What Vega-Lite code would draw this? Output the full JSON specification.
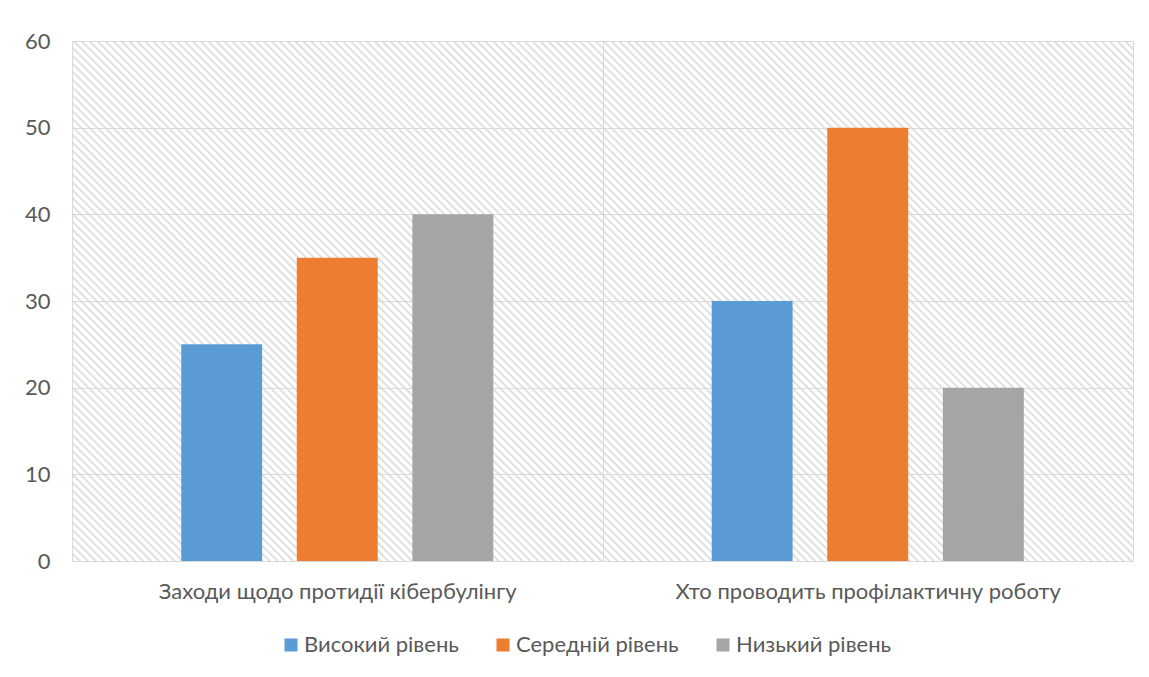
{
  "$schema": "https://vega.github.io/schema/vega-lite/v6.json",
  "width": 1061,
  "height": 520,
  "autosize": "none",
  "padding": {"left": 72, "top": 41, "right": 16, "bottom": 116},
  "background": "white",
  "data": {
    "values": [
      {"category": "Заходи щодо протидії кібербулінгу", "level": "Високий рівень", "value": 25},
      {"category": "Заходи щодо протидії кібербулінгу", "level": "Середній рівень", "value": 35},
      {"category": "Заходи щодо протидії кібербулінгу", "level": "Низький рівень", "value": 40},
      {"category": "Хто проводить профілактичну роботу", "level": "Високий рівень", "value": 30},
      {"category": "Хто проводить профілактичну роботу", "level": "Середній рівень", "value": 50},
      {"category": "Хто проводить профілактичну роботу", "level": "Низький рівень", "value": 20}
    ]
  },
  "mark": {"type": "bar"},
  "encoding": {
    "x": {
      "field": "category",
      "type": "nominal",
      "sort": null,
      "scale": {"paddingInner": 0, "paddingOuter": 0},
      "axis": {
        "title": null,
        "labelAngle": 0,
        "labelLimit": 0,
        "labelFontSize": 22,
        "ticks": false,
        "domain": true,
        "domainColor": "#d9d9d9",
        "grid": true,
        "tickBand": "extent",
        "gridColor": "#d9d9d9",
        "labelPadding": 20
      }
    },
    "xOffset": {
      "field": "level",
      "type": "nominal",
      "sort": ["Високий рівень", "Середній рівень", "Низький рівень"],
      "scale": {"paddingInner": 0.3, "paddingOuter": 0.945}
    },
    "y": {
      "field": "value",
      "type": "quantitative",
      "scale": {"domain": [0, 60], "nice": false},
      "axis": {
        "title": null,
        "values": [0, 10, 20, 30, 40, 50, 60],
        "ticks": false,
        "domain": false,
        "grid": true,
        "gridColor": "#d9d9d9",
        "labelFontSize": 22,
        "labelPadding": 22
      }
    },
    "color": {
      "field": "level",
      "type": "nominal",
      "sort": ["Високий рівень", "Середній рівень", "Низький рівень"],
      "scale": {"range": ["#5B9BD5", "#ED7D31", "#A5A5A5"]},
      "legend": {
        "title": null,
        "orient": "none",
        "direction": "horizontal",
        "legendX": 208,
        "legendY": 593,
        "symbolType": "square",
        "symbolSize": 169,
        "symbolStrokeWidth": 0,
        "symbolOpacity": 1,
        "labelFontSize": 22,
        "labelLimit": 400,
        "labelColor": "#595959",
        "labelFont": "Lato",
        "labelOffset": 2,
        "columnPadding": 33
      }
    }
  },
  "config": {
    "view": {
      "stroke": "#d9d9d9",
      "fill": {
        "gradient": "linear",
        "x1": 0, "y1": 1, "x2": 1.2015, "y2": 0.4111,
        "stops": [
{"offset":0.00,"color":"#d9d9d9"},{"offset":0.0015,"color":"#fff"},{"offset":0.0035,"color":"#fff"},{"offset":0.005,"color":"#d9d9d9"},{"offset":0.0065,"color":"#fff"},{"offset":0.0085,"color":"#fff"},
{"offset":0.01,"color":"#d9d9d9"},{"offset":0.0115,"color":"#fff"},{"offset":0.0135,"color":"#fff"},{"offset":0.015,"color":"#d9d9d9"},{"offset":0.0165,"color":"#fff"},{"offset":0.0185,"color":"#fff"},
{"offset":0.02,"color":"#d9d9d9"},{"offset":0.0215,"color":"#fff"},{"offset":0.0235,"color":"#fff"},{"offset":0.025,"color":"#d9d9d9"},{"offset":0.0265,"color":"#fff"},{"offset":0.0285,"color":"#fff"},
{"offset":0.03,"color":"#d9d9d9"},{"offset":0.0315,"color":"#fff"},{"offset":0.0335,"color":"#fff"},{"offset":0.035,"color":"#d9d9d9"},{"offset":0.0365,"color":"#fff"},{"offset":0.0385,"color":"#fff"},
{"offset":0.04,"color":"#d9d9d9"},{"offset":0.0415,"color":"#fff"},{"offset":0.0435,"color":"#fff"},{"offset":0.045,"color":"#d9d9d9"},{"offset":0.0465,"color":"#fff"},{"offset":0.0485,"color":"#fff"},
{"offset":0.05,"color":"#d9d9d9"},{"offset":0.0515,"color":"#fff"},{"offset":0.0535,"color":"#fff"},{"offset":0.055,"color":"#d9d9d9"},{"offset":0.0565,"color":"#fff"},{"offset":0.0585,"color":"#fff"},
{"offset":0.06,"color":"#d9d9d9"},{"offset":0.0615,"color":"#fff"},{"offset":0.0635,"color":"#fff"},{"offset":0.065,"color":"#d9d9d9"},{"offset":0.0665,"color":"#fff"},{"offset":0.0685,"color":"#fff"},
{"offset":0.07,"color":"#d9d9d9"},{"offset":0.0715,"color":"#fff"},{"offset":0.0735,"color":"#fff"},{"offset":0.075,"color":"#d9d9d9"},{"offset":0.0765,"color":"#fff"},{"offset":0.0785,"color":"#fff"},
{"offset":0.08,"color":"#d9d9d9"},{"offset":0.0815,"color":"#fff"},{"offset":0.0835,"color":"#fff"},{"offset":0.085,"color":"#d9d9d9"},{"offset":0.0865,"color":"#fff"},{"offset":0.0885,"color":"#fff"},
{"offset":0.09,"color":"#d9d9d9"},{"offset":0.0915,"color":"#fff"},{"offset":0.0935,"color":"#fff"},{"offset":0.095,"color":"#d9d9d9"},{"offset":0.0965,"color":"#fff"},{"offset":0.0985,"color":"#fff"},
{"offset":0.10,"color":"#d9d9d9"},{"offset":0.1015,"color":"#fff"},{"offset":0.1035,"color":"#fff"},{"offset":0.105,"color":"#d9d9d9"},{"offset":0.1065,"color":"#fff"},{"offset":0.1085,"color":"#fff"},
{"offset":0.11,"color":"#d9d9d9"},{"offset":0.1115,"color":"#fff"},{"offset":0.1135,"color":"#fff"},{"offset":0.115,"color":"#d9d9d9"},{"offset":0.1165,"color":"#fff"},{"offset":0.1185,"color":"#fff"},
{"offset":0.12,"color":"#d9d9d9"},{"offset":0.1215,"color":"#fff"},{"offset":0.1235,"color":"#fff"},{"offset":0.125,"color":"#d9d9d9"},{"offset":0.1265,"color":"#fff"},{"offset":0.1285,"color":"#fff"},
{"offset":0.13,"color":"#d9d9d9"},{"offset":0.1315,"color":"#fff"},{"offset":0.1335,"color":"#fff"},{"offset":0.135,"color":"#d9d9d9"},{"offset":0.1365,"color":"#fff"},{"offset":0.1385,"color":"#fff"},
{"offset":0.14,"color":"#d9d9d9"},{"offset":0.1415,"color":"#fff"},{"offset":0.1435,"color":"#fff"},{"offset":0.145,"color":"#d9d9d9"},{"offset":0.1465,"color":"#fff"},{"offset":0.1485,"color":"#fff"},
{"offset":0.15,"color":"#d9d9d9"},{"offset":0.1515,"color":"#fff"},{"offset":0.1535,"color":"#fff"},{"offset":0.155,"color":"#d9d9d9"},{"offset":0.1565,"color":"#fff"},{"offset":0.1585,"color":"#fff"},
{"offset":0.16,"color":"#d9d9d9"},{"offset":0.1615,"color":"#fff"},{"offset":0.1635,"color":"#fff"},{"offset":0.165,"color":"#d9d9d9"},{"offset":0.1665,"color":"#fff"},{"offset":0.1685,"color":"#fff"},
{"offset":0.17,"color":"#d9d9d9"},{"offset":0.1715,"color":"#fff"},{"offset":0.1735,"color":"#fff"},{"offset":0.175,"color":"#d9d9d9"},{"offset":0.1765,"color":"#fff"},{"offset":0.1785,"color":"#fff"},
{"offset":0.18,"color":"#d9d9d9"},{"offset":0.1815,"color":"#fff"},{"offset":0.1835,"color":"#fff"},{"offset":0.185,"color":"#d9d9d9"},{"offset":0.1865,"color":"#fff"},{"offset":0.1885,"color":"#fff"},
{"offset":0.19,"color":"#d9d9d9"},{"offset":0.1915,"color":"#fff"},{"offset":0.1935,"color":"#fff"},{"offset":0.195,"color":"#d9d9d9"},{"offset":0.1965,"color":"#fff"},{"offset":0.1985,"color":"#fff"},
{"offset":0.20,"color":"#d9d9d9"},{"offset":0.2015,"color":"#fff"},{"offset":0.2035,"color":"#fff"},{"offset":0.205,"color":"#d9d9d9"},{"offset":0.2065,"color":"#fff"},{"offset":0.2085,"color":"#fff"},
{"offset":0.21,"color":"#d9d9d9"},{"offset":0.2115,"color":"#fff"},{"offset":0.2135,"color":"#fff"},{"offset":0.215,"color":"#d9d9d9"},{"offset":0.2165,"color":"#fff"},{"offset":0.2185,"color":"#fff"},
{"offset":0.22,"color":"#d9d9d9"},{"offset":0.2215,"color":"#fff"},{"offset":0.2235,"color":"#fff"},{"offset":0.225,"color":"#d9d9d9"},{"offset":0.2265,"color":"#fff"},{"offset":0.2285,"color":"#fff"},
{"offset":0.23,"color":"#d9d9d9"},{"offset":0.2315,"color":"#fff"},{"offset":0.2335,"color":"#fff"},{"offset":0.235,"color":"#d9d9d9"},{"offset":0.2365,"color":"#fff"},{"offset":0.2385,"color":"#fff"},
{"offset":0.24,"color":"#d9d9d9"},{"offset":0.2415,"color":"#fff"},{"offset":0.2435,"color":"#fff"},{"offset":0.245,"color":"#d9d9d9"},{"offset":0.2465,"color":"#fff"},{"offset":0.2485,"color":"#fff"},
{"offset":0.25,"color":"#d9d9d9"},{"offset":0.2515,"color":"#fff"},{"offset":0.2535,"color":"#fff"},{"offset":0.255,"color":"#d9d9d9"},{"offset":0.2565,"color":"#fff"},{"offset":0.2585,"color":"#fff"},
{"offset":0.26,"color":"#d9d9d9"},{"offset":0.2615,"color":"#fff"},{"offset":0.2635,"color":"#fff"},{"offset":0.265,"color":"#d9d9d9"},{"offset":0.2665,"color":"#fff"},{"offset":0.2685,"color":"#fff"},
{"offset":0.27,"color":"#d9d9d9"},{"offset":0.2715,"color":"#fff"},{"offset":0.2735,"color":"#fff"},{"offset":0.275,"color":"#d9d9d9"},{"offset":0.2765,"color":"#fff"},{"offset":0.2785,"color":"#fff"},
{"offset":0.28,"color":"#d9d9d9"},{"offset":0.2815,"color":"#fff"},{"offset":0.2835,"color":"#fff"},{"offset":0.285,"color":"#d9d9d9"},{"offset":0.2865,"color":"#fff"},{"offset":0.2885,"color":"#fff"},
{"offset":0.29,"color":"#d9d9d9"},{"offset":0.2915,"color":"#fff"},{"offset":0.2935,"color":"#fff"},{"offset":0.295,"color":"#d9d9d9"},{"offset":0.2965,"color":"#fff"},{"offset":0.2985,"color":"#fff"},
{"offset":0.30,"color":"#d9d9d9"},{"offset":0.3015,"color":"#fff"},{"offset":0.3035,"color":"#fff"},{"offset":0.305,"color":"#d9d9d9"},{"offset":0.3065,"color":"#fff"},{"offset":0.3085,"color":"#fff"},
{"offset":0.31,"color":"#d9d9d9"},{"offset":0.3115,"color":"#fff"},{"offset":0.3135,"color":"#fff"},{"offset":0.315,"color":"#d9d9d9"},{"offset":0.3165,"color":"#fff"},{"offset":0.3185,"color":"#fff"},
{"offset":0.32,"color":"#d9d9d9"},{"offset":0.3215,"color":"#fff"},{"offset":0.3235,"color":"#fff"},{"offset":0.325,"color":"#d9d9d9"},{"offset":0.3265,"color":"#fff"},{"offset":0.3285,"color":"#fff"},
{"offset":0.33,"color":"#d9d9d9"},{"offset":0.3315,"color":"#fff"},{"offset":0.3335,"color":"#fff"},{"offset":0.335,"color":"#d9d9d9"},{"offset":0.3365,"color":"#fff"},{"offset":0.3385,"color":"#fff"},
{"offset":0.34,"color":"#d9d9d9"},{"offset":0.3415,"color":"#fff"},{"offset":0.3435,"color":"#fff"},{"offset":0.345,"color":"#d9d9d9"},{"offset":0.3465,"color":"#fff"},{"offset":0.3485,"color":"#fff"},
{"offset":0.35,"color":"#d9d9d9"},{"offset":0.3515,"color":"#fff"},{"offset":0.3535,"color":"#fff"},{"offset":0.355,"color":"#d9d9d9"},{"offset":0.3565,"color":"#fff"},{"offset":0.3585,"color":"#fff"},
{"offset":0.36,"color":"#d9d9d9"},{"offset":0.3615,"color":"#fff"},{"offset":0.3635,"color":"#fff"},{"offset":0.365,"color":"#d9d9d9"},{"offset":0.3665,"color":"#fff"},{"offset":0.3685,"color":"#fff"},
{"offset":0.37,"color":"#d9d9d9"},{"offset":0.3715,"color":"#fff"},{"offset":0.3735,"color":"#fff"},{"offset":0.375,"color":"#d9d9d9"},{"offset":0.3765,"color":"#fff"},{"offset":0.3785,"color":"#fff"},
{"offset":0.38,"color":"#d9d9d9"},{"offset":0.3815,"color":"#fff"},{"offset":0.3835,"color":"#fff"},{"offset":0.385,"color":"#d9d9d9"},{"offset":0.3865,"color":"#fff"},{"offset":0.3885,"color":"#fff"},
{"offset":0.39,"color":"#d9d9d9"},{"offset":0.3915,"color":"#fff"},{"offset":0.3935,"color":"#fff"},{"offset":0.395,"color":"#d9d9d9"},{"offset":0.3965,"color":"#fff"},{"offset":0.3985,"color":"#fff"},
{"offset":0.40,"color":"#d9d9d9"},{"offset":0.4015,"color":"#fff"},{"offset":0.4035,"color":"#fff"},{"offset":0.405,"color":"#d9d9d9"},{"offset":0.4065,"color":"#fff"},{"offset":0.4085,"color":"#fff"},
{"offset":0.41,"color":"#d9d9d9"},{"offset":0.4115,"color":"#fff"},{"offset":0.4135,"color":"#fff"},{"offset":0.415,"color":"#d9d9d9"},{"offset":0.4165,"color":"#fff"},{"offset":0.4185,"color":"#fff"},
{"offset":0.42,"color":"#d9d9d9"},{"offset":0.4215,"color":"#fff"},{"offset":0.4235,"color":"#fff"},{"offset":0.425,"color":"#d9d9d9"},{"offset":0.4265,"color":"#fff"},{"offset":0.4285,"color":"#fff"},
{"offset":0.43,"color":"#d9d9d9"},{"offset":0.4315,"color":"#fff"},{"offset":0.4335,"color":"#fff"},{"offset":0.435,"color":"#d9d9d9"},{"offset":0.4365,"color":"#fff"},{"offset":0.4385,"color":"#fff"},
{"offset":0.44,"color":"#d9d9d9"},{"offset":0.4415,"color":"#fff"},{"offset":0.4435,"color":"#fff"},{"offset":0.445,"color":"#d9d9d9"},{"offset":0.4465,"color":"#fff"},{"offset":0.4485,"color":"#fff"},
{"offset":0.45,"color":"#d9d9d9"},{"offset":0.4515,"color":"#fff"},{"offset":0.4535,"color":"#fff"},{"offset":0.455,"color":"#d9d9d9"},{"offset":0.4565,"color":"#fff"},{"offset":0.4585,"color":"#fff"},
{"offset":0.46,"color":"#d9d9d9"},{"offset":0.4615,"color":"#fff"},{"offset":0.4635,"color":"#fff"},{"offset":0.465,"color":"#d9d9d9"},{"offset":0.4665,"color":"#fff"},{"offset":0.4685,"color":"#fff"},
{"offset":0.47,"color":"#d9d9d9"},{"offset":0.4715,"color":"#fff"},{"offset":0.4735,"color":"#fff"},{"offset":0.475,"color":"#d9d9d9"},{"offset":0.4765,"color":"#fff"},{"offset":0.4785,"color":"#fff"},
{"offset":0.48,"color":"#d9d9d9"},{"offset":0.4815,"color":"#fff"},{"offset":0.4835,"color":"#fff"},{"offset":0.485,"color":"#d9d9d9"},{"offset":0.4865,"color":"#fff"},{"offset":0.4885,"color":"#fff"},
{"offset":0.49,"color":"#d9d9d9"},{"offset":0.4915,"color":"#fff"},{"offset":0.4935,"color":"#fff"},{"offset":0.495,"color":"#d9d9d9"},{"offset":0.4965,"color":"#fff"},{"offset":0.4985,"color":"#fff"},
{"offset":0.50,"color":"#d9d9d9"},{"offset":0.5015,"color":"#fff"},{"offset":0.5035,"color":"#fff"},{"offset":0.505,"color":"#d9d9d9"},{"offset":0.5065,"color":"#fff"},{"offset":0.5085,"color":"#fff"},
{"offset":0.51,"color":"#d9d9d9"},{"offset":0.5115,"color":"#fff"},{"offset":0.5135,"color":"#fff"},{"offset":0.515,"color":"#d9d9d9"},{"offset":0.5165,"color":"#fff"},{"offset":0.5185,"color":"#fff"},
{"offset":0.52,"color":"#d9d9d9"},{"offset":0.5215,"color":"#fff"},{"offset":0.5235,"color":"#fff"},{"offset":0.525,"color":"#d9d9d9"},{"offset":0.5265,"color":"#fff"},{"offset":0.5285,"color":"#fff"},
{"offset":0.53,"color":"#d9d9d9"},{"offset":0.5315,"color":"#fff"},{"offset":0.5335,"color":"#fff"},{"offset":0.535,"color":"#d9d9d9"},{"offset":0.5365,"color":"#fff"},{"offset":0.5385,"color":"#fff"},
{"offset":0.54,"color":"#d9d9d9"},{"offset":0.5415,"color":"#fff"},{"offset":0.5435,"color":"#fff"},{"offset":0.545,"color":"#d9d9d9"},{"offset":0.5465,"color":"#fff"},{"offset":0.5485,"color":"#fff"},
{"offset":0.55,"color":"#d9d9d9"},{"offset":0.5515,"color":"#fff"},{"offset":0.5535,"color":"#fff"},{"offset":0.555,"color":"#d9d9d9"},{"offset":0.5565,"color":"#fff"},{"offset":0.5585,"color":"#fff"},
{"offset":0.56,"color":"#d9d9d9"},{"offset":0.5615,"color":"#fff"},{"offset":0.5635,"color":"#fff"},{"offset":0.565,"color":"#d9d9d9"},{"offset":0.5665,"color":"#fff"},{"offset":0.5685,"color":"#fff"},
{"offset":0.57,"color":"#d9d9d9"},{"offset":0.5715,"color":"#fff"},{"offset":0.5735,"color":"#fff"},{"offset":0.575,"color":"#d9d9d9"},{"offset":0.5765,"color":"#fff"},{"offset":0.5785,"color":"#fff"},
{"offset":0.58,"color":"#d9d9d9"},{"offset":0.5815,"color":"#fff"},{"offset":0.5835,"color":"#fff"},{"offset":0.585,"color":"#d9d9d9"},{"offset":0.5865,"color":"#fff"},{"offset":0.5885,"color":"#fff"},
{"offset":0.59,"color":"#d9d9d9"},{"offset":0.5915,"color":"#fff"},{"offset":0.5935,"color":"#fff"},{"offset":0.595,"color":"#d9d9d9"},{"offset":0.5965,"color":"#fff"},{"offset":0.5985,"color":"#fff"},
{"offset":0.60,"color":"#d9d9d9"},{"offset":0.6015,"color":"#fff"},{"offset":0.6035,"color":"#fff"},{"offset":0.605,"color":"#d9d9d9"},{"offset":0.6065,"color":"#fff"},{"offset":0.6085,"color":"#fff"},
{"offset":0.61,"color":"#d9d9d9"},{"offset":0.6115,"color":"#fff"},{"offset":0.6135,"color":"#fff"},{"offset":0.615,"color":"#d9d9d9"},{"offset":0.6165,"color":"#fff"},{"offset":0.6185,"color":"#fff"},
{"offset":0.62,"color":"#d9d9d9"},{"offset":0.6215,"color":"#fff"},{"offset":0.6235,"color":"#fff"},{"offset":0.625,"color":"#d9d9d9"},{"offset":0.6265,"color":"#fff"},{"offset":0.6285,"color":"#fff"},
{"offset":0.63,"color":"#d9d9d9"},{"offset":0.6315,"color":"#fff"},{"offset":0.6335,"color":"#fff"},{"offset":0.635,"color":"#d9d9d9"},{"offset":0.6365,"color":"#fff"},{"offset":0.6385,"color":"#fff"},
{"offset":0.64,"color":"#d9d9d9"},{"offset":0.6415,"color":"#fff"},{"offset":0.6435,"color":"#fff"},{"offset":0.645,"color":"#d9d9d9"},{"offset":0.6465,"color":"#fff"},{"offset":0.6485,"color":"#fff"},
{"offset":0.65,"color":"#d9d9d9"},{"offset":0.6515,"color":"#fff"},{"offset":0.6535,"color":"#fff"},{"offset":0.655,"color":"#d9d9d9"},{"offset":0.6565,"color":"#fff"},{"offset":0.6585,"color":"#fff"},
{"offset":0.66,"color":"#d9d9d9"},{"offset":0.6615,"color":"#fff"},{"offset":0.6635,"color":"#fff"},{"offset":0.665,"color":"#d9d9d9"},{"offset":0.6665,"color":"#fff"},{"offset":0.6685,"color":"#fff"},
{"offset":0.67,"color":"#d9d9d9"},{"offset":0.6715,"color":"#fff"},{"offset":0.6735,"color":"#fff"},{"offset":0.675,"color":"#d9d9d9"},{"offset":0.6765,"color":"#fff"},{"offset":0.6785,"color":"#fff"},
{"offset":0.68,"color":"#d9d9d9"},{"offset":0.6815,"color":"#fff"},{"offset":0.6835,"color":"#fff"},{"offset":0.685,"color":"#d9d9d9"},{"offset":0.6865,"color":"#fff"},{"offset":0.6885,"color":"#fff"},
{"offset":0.69,"color":"#d9d9d9"},{"offset":0.6915,"color":"#fff"},{"offset":0.6935,"color":"#fff"},{"offset":0.695,"color":"#d9d9d9"},{"offset":0.6965,"color":"#fff"},{"offset":0.6985,"color":"#fff"},
{"offset":0.70,"color":"#d9d9d9"},{"offset":0.7015,"color":"#fff"},{"offset":0.7035,"color":"#fff"},{"offset":0.705,"color":"#d9d9d9"},{"offset":0.7065,"color":"#fff"},{"offset":0.7085,"color":"#fff"},
{"offset":0.71,"color":"#d9d9d9"},{"offset":0.7115,"color":"#fff"},{"offset":0.7135,"color":"#fff"},{"offset":0.715,"color":"#d9d9d9"},{"offset":0.7165,"color":"#fff"},{"offset":0.7185,"color":"#fff"},
{"offset":0.72,"color":"#d9d9d9"},{"offset":0.7215,"color":"#fff"},{"offset":0.7235,"color":"#fff"},{"offset":0.725,"color":"#d9d9d9"},{"offset":0.7265,"color":"#fff"},{"offset":0.7285,"color":"#fff"},
{"offset":0.73,"color":"#d9d9d9"},{"offset":0.7315,"color":"#fff"},{"offset":0.7335,"color":"#fff"},{"offset":0.735,"color":"#d9d9d9"},{"offset":0.7365,"color":"#fff"},{"offset":0.7385,"color":"#fff"},
{"offset":0.74,"color":"#d9d9d9"},{"offset":0.7415,"color":"#fff"},{"offset":0.7435,"color":"#fff"},{"offset":0.745,"color":"#d9d9d9"},{"offset":0.7465,"color":"#fff"},{"offset":0.7485,"color":"#fff"},
{"offset":0.75,"color":"#d9d9d9"},{"offset":0.7515,"color":"#fff"},{"offset":0.7535,"color":"#fff"},{"offset":0.755,"color":"#d9d9d9"},{"offset":0.7565,"color":"#fff"},{"offset":0.7585,"color":"#fff"},
{"offset":0.76,"color":"#d9d9d9"},{"offset":0.7615,"color":"#fff"},{"offset":0.7635,"color":"#fff"},{"offset":0.765,"color":"#d9d9d9"},{"offset":0.7665,"color":"#fff"},{"offset":0.7685,"color":"#fff"},
{"offset":0.77,"color":"#d9d9d9"},{"offset":0.7715,"color":"#fff"},{"offset":0.7735,"color":"#fff"},{"offset":0.775,"color":"#d9d9d9"},{"offset":0.7765,"color":"#fff"},{"offset":0.7785,"color":"#fff"},
{"offset":0.78,"color":"#d9d9d9"},{"offset":0.7815,"color":"#fff"},{"offset":0.7835,"color":"#fff"},{"offset":0.785,"color":"#d9d9d9"},{"offset":0.7865,"color":"#fff"},{"offset":0.7885,"color":"#fff"},
{"offset":0.79,"color":"#d9d9d9"},{"offset":0.7915,"color":"#fff"},{"offset":0.7935,"color":"#fff"},{"offset":0.795,"color":"#d9d9d9"},{"offset":0.7965,"color":"#fff"},{"offset":0.7985,"color":"#fff"},
{"offset":0.80,"color":"#d9d9d9"},{"offset":0.8015,"color":"#fff"},{"offset":0.8035,"color":"#fff"},{"offset":0.805,"color":"#d9d9d9"},{"offset":0.8065,"color":"#fff"},{"offset":0.8085,"color":"#fff"},
{"offset":0.81,"color":"#d9d9d9"},{"offset":0.8115,"color":"#fff"},{"offset":0.8135,"color":"#fff"},{"offset":0.815,"color":"#d9d9d9"},{"offset":0.8165,"color":"#fff"},{"offset":0.8185,"color":"#fff"},
{"offset":0.82,"color":"#d9d9d9"},{"offset":0.8215,"color":"#fff"},{"offset":0.8235,"color":"#fff"},{"offset":0.825,"color":"#d9d9d9"},{"offset":0.8265,"color":"#fff"},{"offset":0.8285,"color":"#fff"},
{"offset":0.83,"color":"#d9d9d9"},{"offset":0.8315,"color":"#fff"},{"offset":0.8335,"color":"#fff"},{"offset":0.835,"color":"#d9d9d9"},{"offset":0.8365,"color":"#fff"},{"offset":0.8385,"color":"#fff"},
{"offset":0.84,"color":"#d9d9d9"},{"offset":0.8415,"color":"#fff"},{"offset":0.8435,"color":"#fff"},{"offset":0.845,"color":"#d9d9d9"},{"offset":0.8465,"color":"#fff"},{"offset":0.8485,"color":"#fff"},
{"offset":0.85,"color":"#d9d9d9"},{"offset":0.8515,"color":"#fff"},{"offset":0.8535,"color":"#fff"},{"offset":0.855,"color":"#d9d9d9"},{"offset":0.8565,"color":"#fff"},{"offset":0.8585,"color":"#fff"},
{"offset":0.86,"color":"#d9d9d9"},{"offset":0.8615,"color":"#fff"},{"offset":0.8635,"color":"#fff"},{"offset":0.865,"color":"#d9d9d9"},{"offset":0.8665,"color":"#fff"},{"offset":0.8685,"color":"#fff"},
{"offset":0.87,"color":"#d9d9d9"},{"offset":0.8715,"color":"#fff"},{"offset":0.8735,"color":"#fff"},{"offset":0.875,"color":"#d9d9d9"},{"offset":0.8765,"color":"#fff"},{"offset":0.8785,"color":"#fff"},
{"offset":0.88,"color":"#d9d9d9"},{"offset":0.8815,"color":"#fff"},{"offset":0.8835,"color":"#fff"},{"offset":0.885,"color":"#d9d9d9"},{"offset":0.8865,"color":"#fff"},{"offset":0.8885,"color":"#fff"},
{"offset":0.89,"color":"#d9d9d9"},{"offset":0.8915,"color":"#fff"},{"offset":0.8935,"color":"#fff"},{"offset":0.895,"color":"#d9d9d9"},{"offset":0.8965,"color":"#fff"},{"offset":0.8985,"color":"#fff"},
{"offset":0.90,"color":"#d9d9d9"},{"offset":0.9015,"color":"#fff"},{"offset":0.9035,"color":"#fff"},{"offset":0.905,"color":"#d9d9d9"},{"offset":0.9065,"color":"#fff"},{"offset":0.9085,"color":"#fff"},
{"offset":0.91,"color":"#d9d9d9"},{"offset":0.9115,"color":"#fff"},{"offset":0.9135,"color":"#fff"},{"offset":0.915,"color":"#d9d9d9"},{"offset":0.9165,"color":"#fff"},{"offset":0.9185,"color":"#fff"},
{"offset":0.92,"color":"#d9d9d9"},{"offset":0.9215,"color":"#fff"},{"offset":0.9235,"color":"#fff"},{"offset":0.925,"color":"#d9d9d9"},{"offset":0.9265,"color":"#fff"},{"offset":0.9285,"color":"#fff"},
{"offset":0.93,"color":"#d9d9d9"},{"offset":0.9315,"color":"#fff"},{"offset":0.9335,"color":"#fff"},{"offset":0.935,"color":"#d9d9d9"},{"offset":0.9365,"color":"#fff"},{"offset":0.9385,"color":"#fff"},
{"offset":0.94,"color":"#d9d9d9"},{"offset":0.9415,"color":"#fff"},{"offset":0.9435,"color":"#fff"},{"offset":0.945,"color":"#d9d9d9"},{"offset":0.9465,"color":"#fff"},{"offset":0.9485,"color":"#fff"},
{"offset":0.95,"color":"#d9d9d9"},{"offset":0.9515,"color":"#fff"},{"offset":0.9535,"color":"#fff"},{"offset":0.955,"color":"#d9d9d9"},{"offset":0.9565,"color":"#fff"},{"offset":0.9585,"color":"#fff"},
{"offset":0.96,"color":"#d9d9d9"},{"offset":0.9615,"color":"#fff"},{"offset":0.9635,"color":"#fff"},{"offset":0.965,"color":"#d9d9d9"},{"offset":0.9665,"color":"#fff"},{"offset":0.9685,"color":"#fff"},
{"offset":0.97,"color":"#d9d9d9"},{"offset":0.9715,"color":"#fff"},{"offset":0.9735,"color":"#fff"},{"offset":0.975,"color":"#d9d9d9"},{"offset":0.9765,"color":"#fff"},{"offset":0.9785,"color":"#fff"},
{"offset":0.98,"color":"#d9d9d9"},{"offset":0.9815,"color":"#fff"},{"offset":0.9835,"color":"#fff"},{"offset":0.985,"color":"#d9d9d9"},{"offset":0.9865,"color":"#fff"},{"offset":0.9885,"color":"#fff"},
{"offset":0.99,"color":"#d9d9d9"},{"offset":0.9915,"color":"#fff"},{"offset":0.9935,"color":"#fff"},{"offset":0.995,"color":"#d9d9d9"},{"offset":0.9965,"color":"#fff"},{"offset":0.9985,"color":"#fff"},
{"offset":1,"color":"#d9d9d9"}
        ]
      }
    },
    "font": "Lato",
    "axis": {"labelFont": "Lato", "labelColor": "#595959"}
  }
}
